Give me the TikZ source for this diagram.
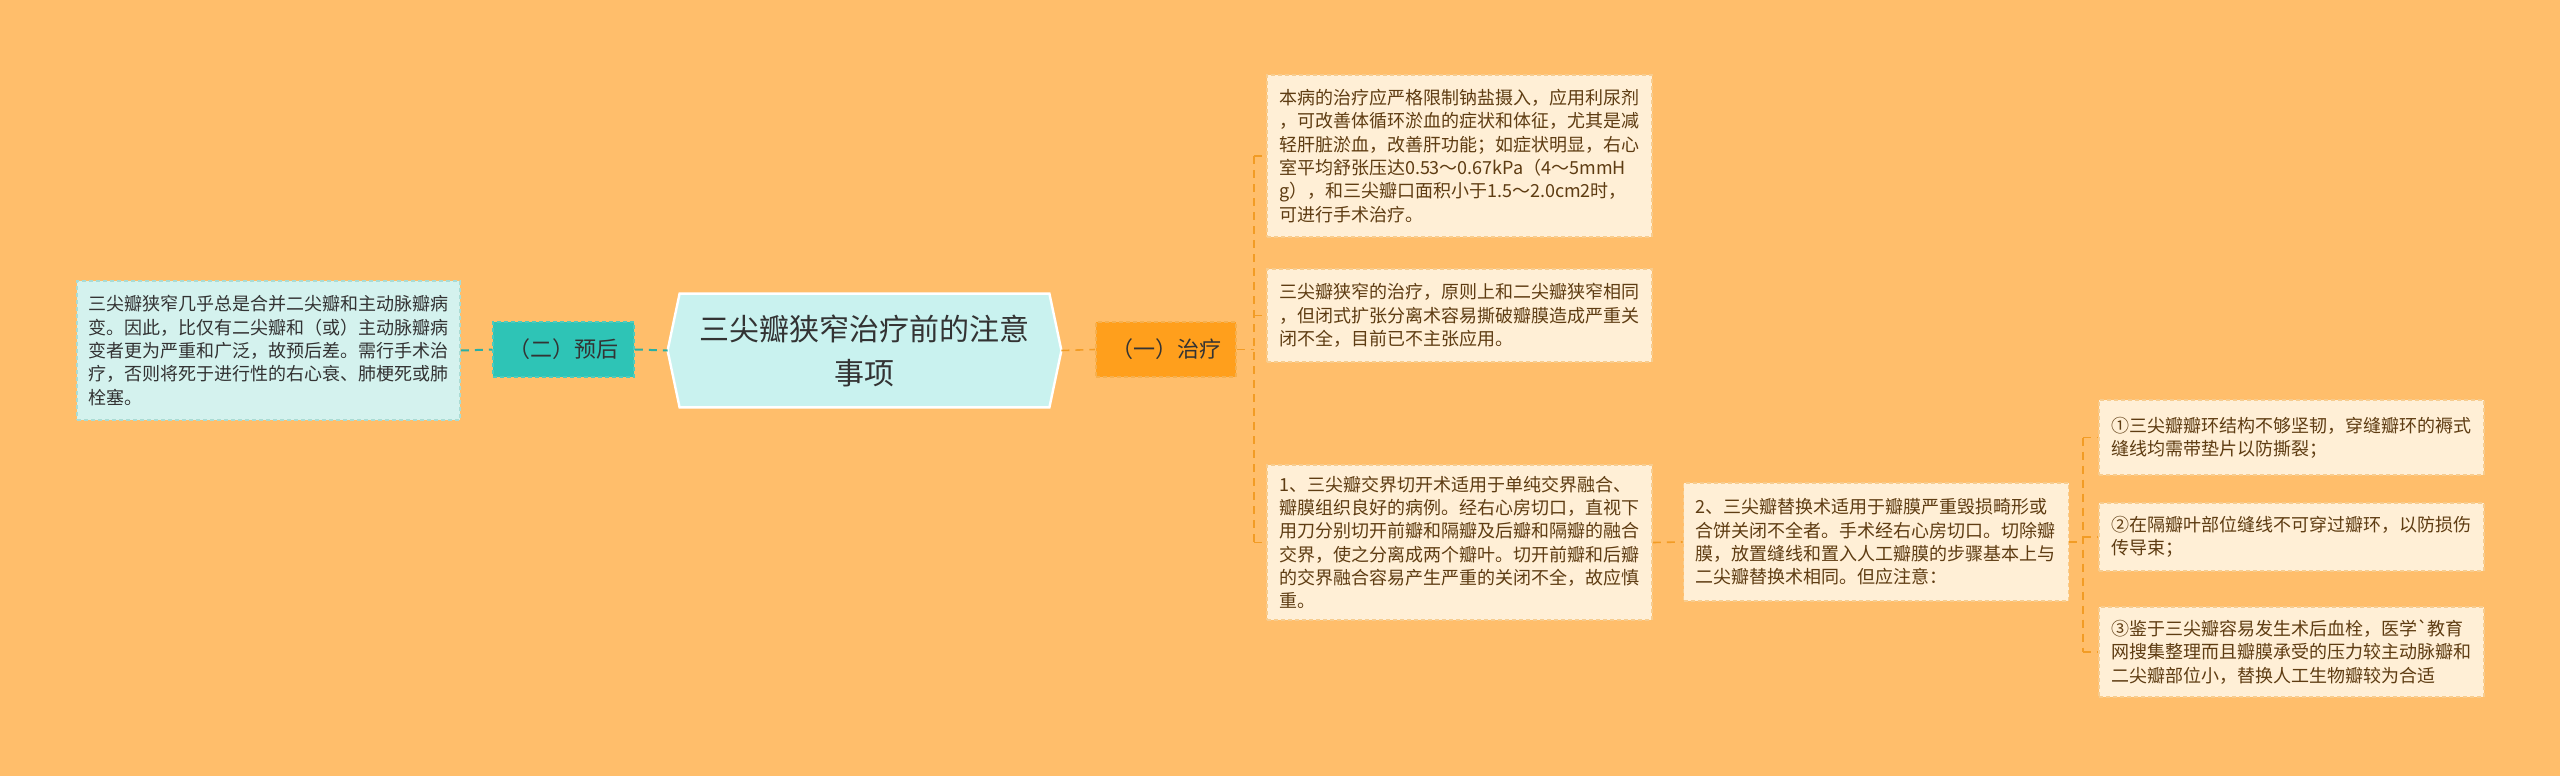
\documentclass[tikz,border=0pt]{standalone}
\usepackage{fontspec}
\setmainfont{Noto Sans CJK SC}[Ligatures=TeXOff]
\usetikzlibrary{backgrounds}
\definecolor{bgc}{HTML}{FFBE6B}
\definecolor{hexfill}{HTML}{C9F2EF}
\definecolor{tealfill}{HTML}{2EC4B6}
\definecolor{tealline}{HTML}{2AAFA3}
\definecolor{tborder}{HTML}{4CCBBE}
\definecolor{lfill}{HTML}{D4F2EE}
\definecolor{lborder}{HTML}{A9DCD5}
\definecolor{ofill}{HTML}{FF9F1C}
\definecolor{oborder}{HTML}{F6B04E}
\definecolor{oline}{HTML}{F29C25}
\definecolor{rfill}{HTML}{FFEFD6}
\definecolor{rborder}{HTML}{F7CC8E}
\definecolor{rtext}{HTML}{5E3C12}
\definecolor{dtext}{HTML}{333333}
\tikzset{
  rbox/.style={draw=rborder, dash pattern=on 2pt off 1.5pt, line width=0.8pt, fill=rfill, text=rtext,
    font=\fontsize{9}{11.65}\selectfont, align=left, text width=180.5pt, inner xsep=6pt, inner ysep=5pt},
  lbox/.style={draw=lborder, dash pattern=on 2pt off 1.5pt, line width=0.8pt, fill=lfill, text=dtext,
    font=\fontsize{9}{11.65}\selectfont, align=left, text width=180pt, inner xsep=5.75pt, inner ysep=5pt},
  tealbox/.style={draw=tborder, dash pattern=on 2pt off 1.5pt, line width=0.8pt, fill=tealfill, text=dtext,
    font=\fontsize{11}{13}\selectfont, minimum width=70.5pt, minimum height=27.5pt, inner sep=2pt},
  orbox/.style={draw=oborder, dash pattern=on 2pt off 1.5pt, line width=0.8pt, fill=ofill, text=dtext,
    font=\fontsize{11}{13}\selectfont, minimum width=70pt, minimum height=27.5pt, inner sep=2pt},
  hextext/.style={text=dtext, font=\fontsize{15}{22}\selectfont, align=center,
    minimum width=196.5pt, minimum height=56.5pt, inner sep=0pt},
  tline/.style={draw=tealline, line width=1pt, dash pattern=on 4pt off 3pt},
  oline/.style={draw=oline, line width=0.8pt, dash pattern=on 4pt off 3pt},
}
\begin{document}
\begin{tikzpicture}[x=0.5pt,y=-0.5pt]
\useasboundingbox (0,0) rectangle (2560,776);

\node[hextext] (hex) at (864.5,350.5) {三尖瓣狭窄治疗前的注意\\事项};
\node[tealbox] (yh) at (563.5,349.5) {（二）预后};
\node[lbox, minimum height=69.5pt] (lt) at (268.5,350.5) {三尖瓣狭窄几乎总是合并二尖瓣和主动脉瓣病\\变。因此，比仅有二尖瓣和（或）主动脉瓣病\\变者更为严重和广泛，故预后差。需行手术治\\疗，否则将死于进行性的右心衰、肺梗死或肺\\栓塞。};
\node[orbox] (zl) at (1166,349.5) {（一）治疗};

\node[rbox, minimum height=81pt] (A) at (1459.5,156) {本病的治疗应严格限制钠盐摄入，应用利尿剂\\，可改善体循环淤血的症状和体征，尤其是减\\轻肝脏淤血，改善肝功能；如症状明显，右心\\室平均舒张压达0.53～0.67kPa（4～5mmH\\g），和三尖瓣口面积小于1.5～2.0cm2时，\\可进行手术治疗。};
\node[rbox, minimum height=46.5pt] (B) at (1459.5,315.5) {三尖瓣狭窄的治疗，原则上和二尖瓣狭窄相同\\，但闭式扩张分离术容易撕破瓣膜造成严重关\\闭不全，目前已不主张应用。};
\node[rbox, minimum height=77.5pt] (C) at (1459.5,542.5) {1、三尖瓣交界切开术适用于单纯交界融合、\\瓣膜组织良好的病例。经右心房切口，直视下\\用刀分别切开前瓣和隔瓣及后瓣和隔瓣的融合\\交界，使之分离成两个瓣叶。切开前瓣和后瓣\\的交界融合容易产生严重的关闭不全，故应慎\\重。};
\node[rbox, minimum height=59pt] (D) at (1876,542) {2、三尖瓣替换术适用于瓣膜严重毁损畸形或\\合饼关闭不全者。手术经右心房切口。切除瓣\\膜，放置缝线和置入人工瓣膜的步骤基本上与\\二尖瓣替换术相同。但应注意：};
\node[rbox, minimum height=37.5pt] (E) at (2291.5,437.5) {①三尖瓣瓣环结构不够坚韧，穿缝瓣环的褥式\\缝线均需带垫片以防撕裂；};
\node[rbox, minimum height=34pt] (F) at (2291.5,537) {②在隔瓣叶部位缝线不可穿过瓣环，以防损伤\\传导束；};
\node[rbox, minimum height=45pt] (G) at (2291.5,652) {③鉴于三尖瓣容易发生术后血栓，医学`教育\\网搜集整理而且瓣膜承受的压力较主动脉瓣和\\二尖瓣部位小，替换人工生物瓣较为合适};

% connectors
\draw[tline] (lt.east) -- (yh.west);
\draw[tline] (yh.east) -- (hex.west);
\draw[oline] (hex.east) -- (zl.west);
\coordinate (t1) at (1254,349.5);
\coordinate (ta) at (t1 |- A.west);
\coordinate (tb) at (t1 |- B.west);
\coordinate (tc) at (t1 |- C.west);
\draw[oline] (zl.east) -- (t1);
\draw[oline] (ta) -- (tc);
\draw[oline] (ta) -- (A.west);
\draw[oline] (tb) -- (B.west);
\draw[oline] (tc) -- (C.west);
\draw[oline] (C.east) -- (D.west);
\coordinate (t2) at (2083,542);
\coordinate (te) at (t2 |- E.west);
\coordinate (tf) at (t2 |- F.west);
\coordinate (tg) at (t2 |- G.west);
\draw[oline] (D.east) -- (t2);
\draw[oline] (te) -- (tg);
\draw[oline] (te) -- (E.west);
\draw[oline] (tf) -- (F.west);
\draw[oline] (tg) -- (G.west);

\begin{scope}[on background layer]
\fill[bgc] (0,0) rectangle (2560,776);
\filldraw[fill=hexfill, draw=white, line width=1.2pt]
  ([xshift=6pt]hex.north west) -- ([xshift=-6pt]hex.north east) -- (hex.east)
  -- ([xshift=-6pt]hex.south east) -- ([xshift=6pt]hex.south west) -- (hex.west) -- cycle;
\end{scope}
\end{tikzpicture}
\end{document}
